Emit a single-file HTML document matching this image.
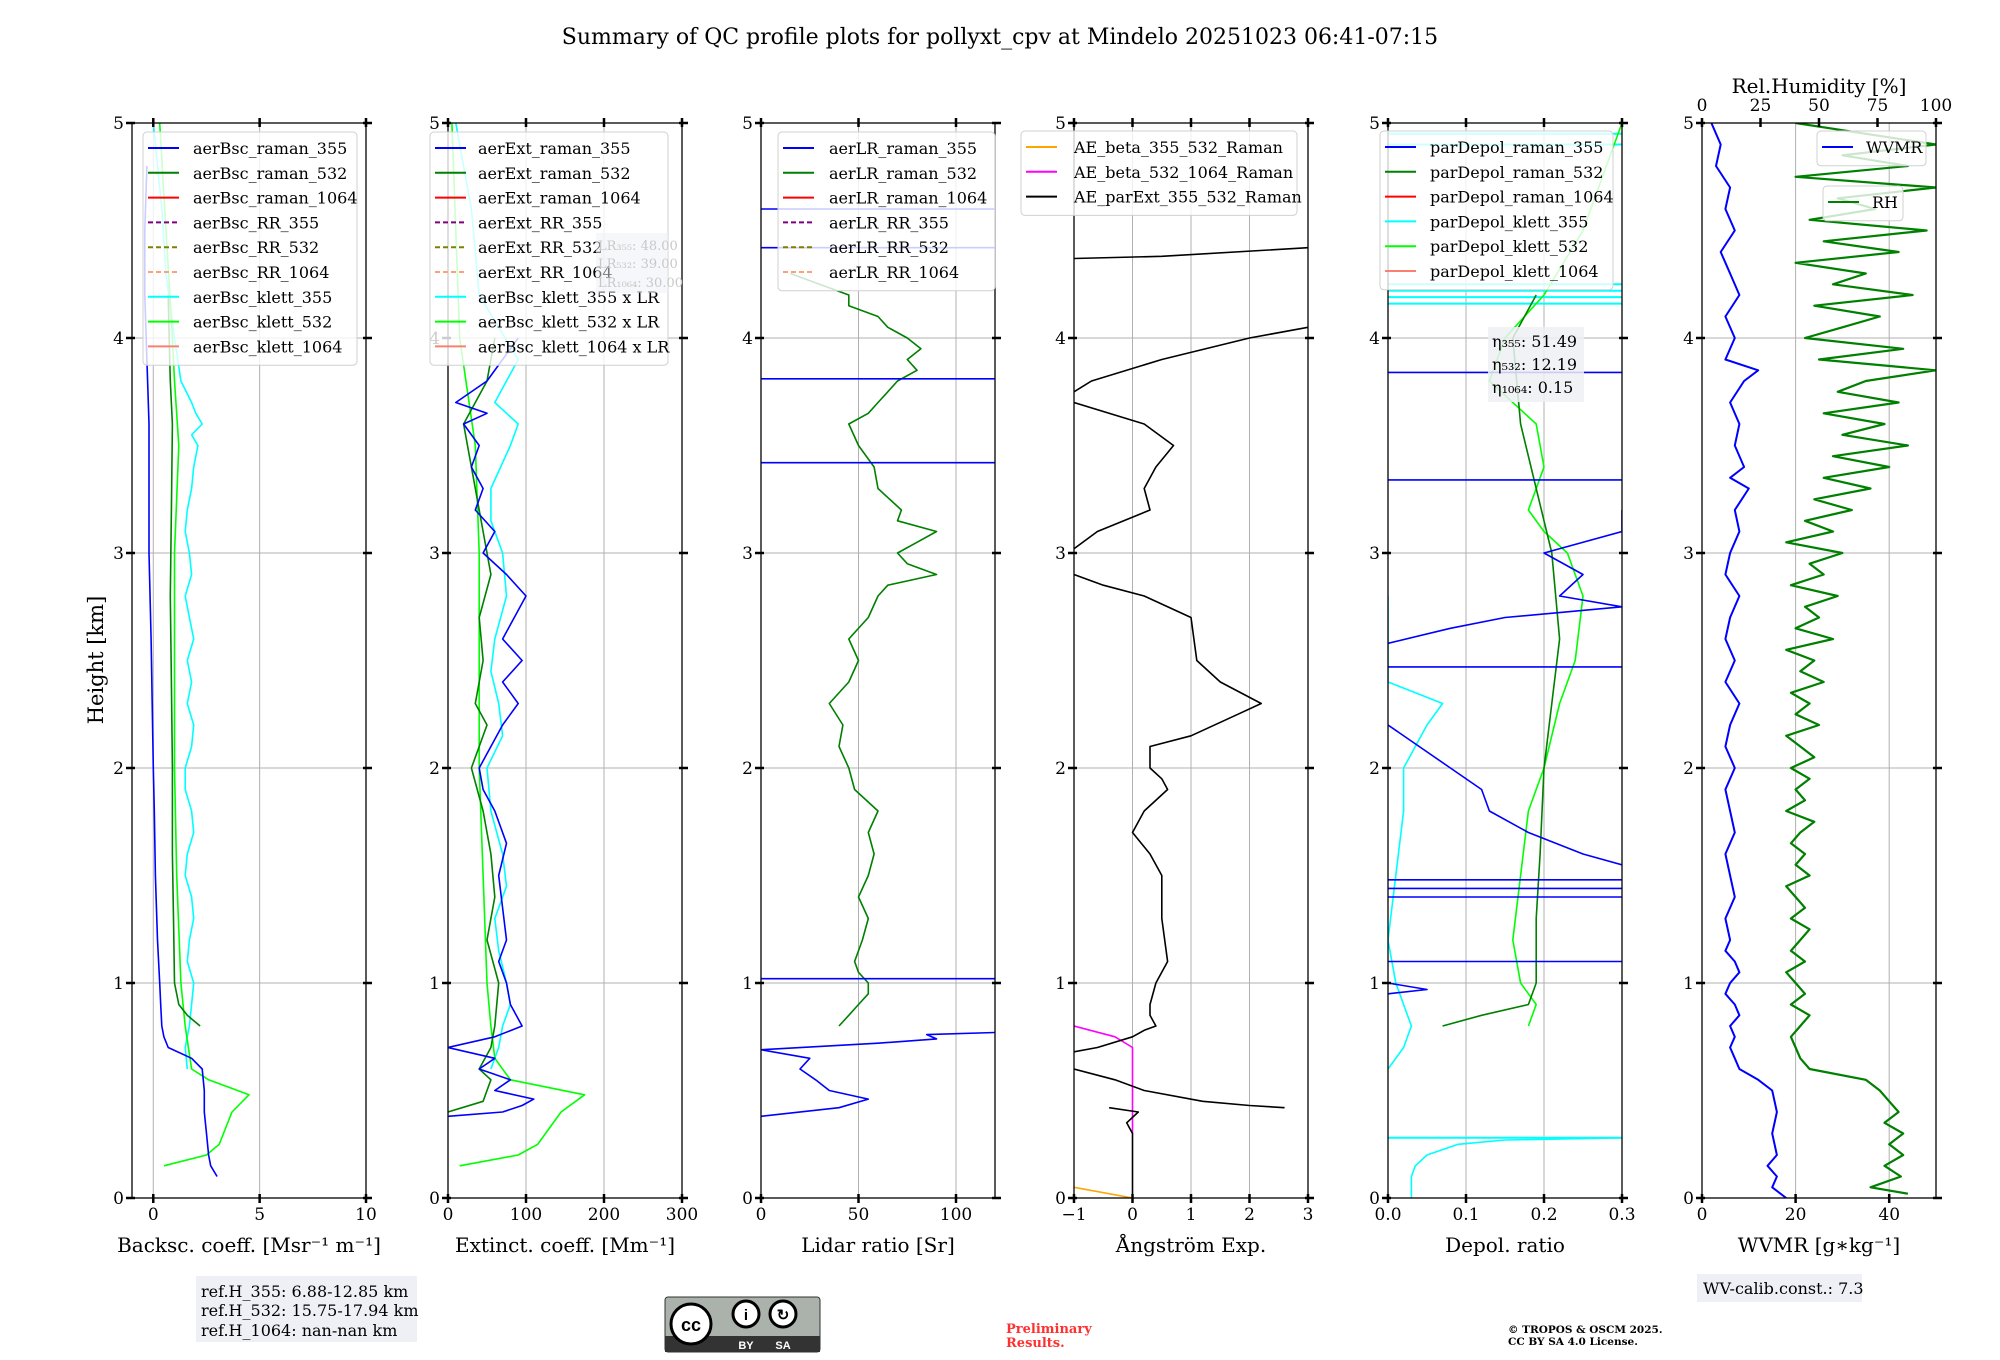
<!DOCTYPE html>
<html><head><meta charset="utf-8">
<style>
html,body{margin:0;padding:0;background:#fff;}
svg{display:block;font-family:"DejaVu Serif","Liberation Serif",serif;}
</style></head>
<body>
<svg id="fig" width="2000" height="1360" viewBox="0 0 2000 1360" xmlns="http://www.w3.org/2000/svg">
<rect width="2000" height="1360" fill="#fff"/>
<text x="1000" y="44" font-size="22" text-anchor="middle">Summary of QC profile plots for pollyxt_cpv at Mindelo 20251023 06:41-07:15</text>
<g id="plots"></g>
<text transform="translate(103,660) rotate(-90)" font-size="21" text-anchor="middle">Height [km]</text>
<g>
<rect x="196" y="1276" width="221" height="66" fill="#eef0f5"/>
<text x="201" y="1297" font-size="16">ref.H_355: 6.88-12.85 km</text>
<text x="201" y="1316" font-size="16">ref.H_532: 15.75-17.94 km</text>
<text x="201" y="1336" font-size="16">ref.H_1064: nan-nan km</text>
</g>
<g>
<rect x="665" y="1297" width="155" height="55" rx="3" fill="#aab2ab" stroke="#333" stroke-width="1"/>
<rect x="665" y="1336" width="155" height="16" fill="#333"/>
<circle cx="691" cy="1324" r="20" fill="#fff" stroke="#000" stroke-width="3"/>
<text x="691" y="1331" font-size="18" font-weight="bold" text-anchor="middle" font-family="Liberation Sans,sans-serif">cc</text>
<circle cx="746" cy="1314" r="13" fill="#fff" stroke="#000" stroke-width="3"/>
<circle cx="783" cy="1314" r="13" fill="#fff" stroke="#000" stroke-width="3"/>
<text x="746" y="1320" font-size="15" font-weight="bold" text-anchor="middle" font-family="Liberation Sans,sans-serif">i</text>
<text x="783" y="1320" font-size="15" font-weight="bold" text-anchor="middle" font-family="Liberation Sans,sans-serif">↻</text>
<text x="746" y="1349" font-size="11" fill="#fff" font-weight="bold" text-anchor="middle" font-family="Liberation Sans,sans-serif">BY</text>
<text x="783" y="1349" font-size="11" fill="#fff" font-weight="bold" text-anchor="middle" font-family="Liberation Sans,sans-serif">SA</text>
</g>
<text x="1006" y="1333" font-size="13" font-weight="bold" fill="#ff3030">Preliminary</text>
<text x="1006" y="1347" font-size="13" font-weight="bold" fill="#ff3030">Results.</text>
<text x="1508" y="1333" font-size="10.5" font-weight="bold">© TROPOS &amp; OSCM 2025.</text>
<text x="1508" y="1345" font-size="10.5" font-weight="bold">CC BY SA 4.0 License.</text>
<g>
<rect x="1697" y="1274" width="165" height="28" fill="#eef0f5"/>
<text x="1703" y="1294" font-size="16">WV-calib.const.: 7.3</text>
</g>
</svg>
<script>
// ---- data arrays (height km / value) ----
const bsc355H=[0.1,0.15,0.2,0.3,0.4,0.5,0.6,0.65,0.7,0.75,0.8,0.9,1.0,1.2,1.5,1.8,2.0,2.3,2.6,3.0,3.3,3.6,3.9,4.2,4.5,4.8];
const bsc355V=[3.0,2.7,2.6,2.5,2.4,2.4,2.3,1.8,0.7,0.5,0.4,0.35,0.3,0.2,0.1,0.05,0.0,-0.05,-0.1,-0.2,-0.2,-0.2,-0.3,-0.4,-0.4,-0.3];
const bsc532H=[0.8,0.85,0.9,1.0,1.3,1.6,2.0,2.4,2.8,3.2,3.6,3.8,4.0,4.2];
const bsc532V=[2.2,1.6,1.2,1.0,0.95,0.9,0.9,0.85,0.8,0.85,0.9,0.8,0.75,0.7];
const bscK355H=[0.6,0.7,0.8,0.9,1.0,1.1,1.2,1.3,1.4,1.5,1.6,1.7,1.8,1.9,2.0,2.1,2.2,2.3,2.4,2.5,2.6,2.7,2.8,2.9,3.0,3.1,3.2,3.3,3.4,3.5,3.55,3.6,3.65,3.7,3.8,4.0,4.3,4.6,5.0];
const bscK355V=[1.6,1.5,1.7,1.8,1.9,1.6,1.7,1.9,1.8,1.5,1.6,1.9,1.8,1.5,1.5,1.8,1.9,1.6,1.8,1.6,1.9,1.7,1.5,1.8,1.7,1.5,1.6,1.8,1.9,2.1,1.8,2.3,2.0,1.8,1.3,1.0,0.6,0.4,0.0];
const bscK532H=[0.15,0.2,0.25,0.3,0.4,0.48,0.55,0.6,0.8,1.0,1.5,2.0,2.5,3.0,3.5,3.8,4.0,4.5,5.0];
const bscK532V=[0.5,2.5,3.1,3.3,3.7,4.5,2.6,1.8,1.5,1.3,1.1,1.0,1.0,1.0,1.2,1.0,0.9,0.6,0.3];
const ext355H=[0.38,0.4,0.43,0.46,0.5,0.55,0.6,0.65,0.7,0.75,0.8,0.9,1.0,1.1,1.2,1.35,1.5,1.65,1.8,1.9,2.0,2.1,2.2,2.3,2.4,2.5,2.6,2.7,2.8,2.9,3.0,3.1,3.2,3.3,3.4,3.5,3.6,3.65,3.7,3.8,3.9,4.0];
const ext355V=[0,70,95,110,60,80,40,60,0,60,95,80,75,65,75,70,65,75,60,45,40,55,70,90,70,95,70,85,100,75,45,60,35,45,30,40,20,50,10,50,70,90];
const ext532H=[0.4,0.45,0.5,0.55,0.6,0.7,0.8,1.0,1.2,1.4,1.6,1.8,2.0,2.2,2.3,2.5,2.7,2.9,3.0,3.2,3.3,3.5,3.6,3.8,4.0];
const ext532V=[0,45,50,55,40,55,60,65,50,60,55,45,30,50,35,45,40,55,50,40,35,25,20,50,60];
const extK355H=[0.6,0.7,0.8,0.9,1.0,1.15,1.3,1.45,1.6,1.8,2.0,2.15,2.3,2.45,2.6,2.8,3.0,3.15,3.3,3.5,3.6,3.7,3.9,4.2,4.6,5.0];
const extK355V=[55,65,70,80,75,65,60,75,70,55,50,70,65,55,60,75,70,55,55,80,90,60,90,40,30,10];
const extK532H=[0.15,0.2,0.25,0.3,0.4,0.48,0.55,0.65,0.8,1.0,1.5,2.0,2.5,3.0,3.5,4.0,4.5,5.0];
const extK532V=[15,90,115,125,145,175,80,60,55,50,45,40,40,40,35,15,10,5];
const lr532H=[0.8,0.85,0.9,0.95,1.0,1.05,1.1,1.2,1.3,1.4,1.5,1.6,1.7,1.8,1.9,2.0,2.1,2.2,2.3,2.4,2.5,2.6,2.7,2.8,2.85,2.9,2.95,3.0,3.05,3.1,3.15,3.2,3.3,3.4,3.5,3.6,3.65,3.7,3.75,3.8,3.85,3.9,3.95,4.0,4.05,4.1,4.15,4.2,4.25,4.3];
const lr532V=[40,45,50,55,55,50,48,52,55,50,55,58,55,60,48,45,40,42,35,45,50,45,55,60,65,90,75,70,80,90,70,72,60,58,50,45,55,60,65,70,80,75,82,75,65,60,45,45,30,15];
const lr355H=[0.38,0.42,0.46,0.5,0.55,0.6,0.65,0.69,0.72,0.74,0.76,0.77];
const lr355V=[0,40,55,35,28,20,25,0,60,90,85,120];
const lrHLines=[1.02,3.42,3.81,4.42,4.6];
const ae355H=[2.9,2.85,2.8,2.7,2.6,2.5,2.4,2.3,2.25,2.15,2.1,2.0,1.95,1.9,1.8,1.7,1.6,1.5,1.3,1.1,1.0,0.9,0.85,0.8,0.78,0.75,0.7,0.68];
const ae355V=[-1,-0.5,0.2,1.0,1.05,1.1,1.5,2.2,1.8,1.0,0.3,0.3,0.5,0.6,0.2,0.0,0.3,0.5,0.5,0.6,0.4,0.3,0.3,0.4,0.2,0.0,-0.6,-1];
const aeLowH=[0.6,0.55,0.5,0.45,0.43,0.42];
const aeLowV=[-1,-0.3,0.2,1.2,2.0,2.6];
const aeMidH=[3.02,3.1,3.2,3.3,3.4,3.5,3.6,3.7];
const aeMidV=[-1,-0.6,0.3,0.2,0.4,0.7,0.2,-1];
const aeTopH=[3.75,3.8,3.9,4.0,4.05];
const aeTopV=[-1,-0.7,0.5,2.0,3.0];
const aeTop2H=[4.37,4.38,4.42];
const aeTop2V=[-1,0.5,3.0];
const ae1064H=[0.8,0.75,0.7,0.3];
const ae1064V=[-1,-0.3,0.0,0.0];
const aeOrgH=[0.05,0.0];
const aeOrgV=[-1,0.0];
const dp532H=[0.8,0.85,0.9,1.0,1.3,1.6,2.0,2.3,2.6,3.0,3.3,3.6,3.8,4.0,4.2];
const dp532V=[0.07,0.12,0.18,0.19,0.19,0.195,0.2,0.21,0.22,0.21,0.19,0.17,0.165,0.16,0.19];
const dpK532H=[0.8,0.9,1.0,1.2,1.5,1.8,2.0,2.3,2.5,2.8,3.0,3.1,3.2,3.4,3.6,3.8,4.0,4.2,4.5,4.8,5.0];
const dpK532V=[0.18,0.19,0.17,0.16,0.17,0.18,0.2,0.22,0.24,0.25,0.23,0.2,0.18,0.2,0.19,0.13,0.15,0.2,0.25,0.28,0.3];
const dp355H=[1.55,1.6,1.7,1.8,1.9,2.0,2.1,2.2];
const dp355V=[0.3,0.25,0.18,0.13,0.12,0.08,0.04,0.0];
const dp355bH=[2.58,2.65,2.7,2.75,2.8,2.9,3.0,3.1,3.2];
const dp355bV=[0.0,0.08,0.15,0.3,0.22,0.25,0.2,0.3,0.3];
const dpK355H=[0.6,0.7,0.8,0.9,1.0,1.2,1.5,1.8,2.0,2.2,2.3,2.4,2.6,2.8];
const dpK355V=[0.0,0.02,0.03,0.02,0.01,0.0,0.01,0.02,0.02,0.05,0.07,0.0,0.0,0.0];
const dpKcurveH=[0.0,0.1,0.15,0.2,0.25,0.27,0.28];
const dpKcurveV=[0.03,0.03,0.035,0.05,0.09,0.15,0.3];
const dpBlueLines=[1.1,1.4,1.44,1.48,2.47,3.34,3.84];
const dpCyanLines=[4.16,4.19,4.22,4.25,4.9,4.95];
const wvH=[0,0.05,0.1,0.15,0.2,0.3,0.4,0.5,0.55,0.6,0.65,0.7,0.75,0.8,0.85,0.9,0.95,1.0,1.05,1.1,1.15,1.2,1.3,1.4,1.5,1.6,1.7,1.8,1.9,2.0,2.1,2.2,2.3,2.4,2.5,2.6,2.7,2.8,2.9,3.0,3.1,3.2,3.3,3.35,3.4,3.5,3.6,3.7,3.8,3.85,3.9,4.0,4.1,4.2,4.3,4.4,4.5,4.6,4.7,4.8,4.9,5.0];
const wvV=[18,15,16,14,16,15,16,15,12,8,7,6,7,6,8,7,5,6,8,7,5,6,5,7,6,5,7,6,5,7,5,6,8,5,7,5,6,8,5,6,8,7,10,6,9,7,8,6,9,12,5,7,5,8,6,4,7,5,6,3,4,2];
const rhH=[0.02,0.05,0.1,0.15,0.2,0.25,0.3,0.35,0.4,0.45,0.5,0.55,0.6,0.65,0.7,0.75,0.8,0.85,0.9,0.95,1.0,1.05,1.1,1.15,1.2,1.25,1.3,1.35,1.4,1.45,1.5,1.55,1.6,1.65,1.7,1.75,1.8,1.85,1.9,1.95,2.0,2.05,2.1,2.15,2.2,2.25,2.3,2.35,2.4,2.45,2.5,2.55,2.6,2.65,2.7,2.75,2.8,2.85,2.9,2.95,3.0,3.05,3.1,3.15,3.2,3.25,3.3,3.35,3.4,3.45,3.5,3.55,3.6,3.65,3.7,3.75,3.8,3.85,3.9,3.95,4.0,4.05,4.1,4.15,4.2,4.25,4.3,4.35,4.4,4.45,4.5,4.55,4.6,4.65,4.7,4.75,4.8,4.85,4.9,4.95,5.0];
const rhV=[88,72,85,78,86,80,86,78,84,80,76,70,46,42,40,38,42,46,38,44,40,36,44,38,42,46,38,44,40,36,46,40,44,38,42,48,36,44,40,46,38,48,42,36,50,40,46,38,52,42,48,36,56,40,50,44,58,38,52,46,60,36,56,44,64,48,72,52,80,56,88,60,78,52,84,58,70,100,50,86,44,60,76,48,90,56,70,40,84,52,96,46,74,58,100,40,88,60,100,70,40];
// ---- layout ----
const Y0=1198,Y1=123;
const sy=h=>Y0-(h/5)*(Y0-Y1);
const W=234;
const panels=[
 {x:132,min:-1,max:10,ticks:[0,5,10],label:'Backsc. coeff. [Msr⁻¹ m⁻¹]'},
 {x:448,min:0,max:300,ticks:[0,100,200,300],label:'Extinct. coeff. [Mm⁻¹]'},
 {x:761,min:0,max:120,ticks:[0,50,100],label:'Lidar ratio [Sr]'},
 {x:1074,min:-1,max:3,ticks:[-1,0,1,2,3],tl:['−1','0','1','2','3'],label:'Ångström Exp.'},
 {x:1388,min:0,max:0.3,ticks:[0,0.1,0.2,0.3],tl:['0.0','0.1','0.2','0.3'],label:'Depol. ratio'},
 {x:1702,min:0,max:50,ticks:[0,20,40],label:'WVMR [g∗kg⁻¹]'}];
const NS='http://www.w3.org/2000/svg';
const root=document.getElementById('plots');
function mk(tag,attrs,parent){const e=document.createElementNS(NS,tag);for(const k in attrs)e.setAttribute(k,attrs[k]);(parent||root).appendChild(e);return e;}
function sx(p,v){return p.x+(v-p.min)/(p.max-p.min)*W;}
panels.forEach((p,i)=>{
 const g=mk('g',{});
 
 
 p.g=g;
 const cp=mk('clipPath',{id:'cp'+i},g);mk('rect',{x:p.x,y:Y1,width:W,height:Y0-Y1},cp);
 p.ticks.forEach(t=>{mk('line',{x1:sx(p,t),x2:sx(p,t),y1:Y1,y2:Y0,stroke:'#b0b0b0','stroke-width':1},g);});
 for(let h=1;h<5;h++)mk('line',{x1:p.x,x2:p.x+W,y1:sy(h),y2:sy(h),stroke:'#b0b0b0','stroke-width':1},g);
 p.d=mk('g',{'clip-path':'url(#cp'+i+')'},g);
});
function line(pi,H,V,color,name,w){const p=panels[pi];
 const pts=H.map((h,k)=>sx(p,V[k]).toFixed(1)+','+sy(h).toFixed(1)).join(' ');
 const e=mk('polyline',{points:pts,fill:'none',stroke:color,'stroke-width':w||1.6,'stroke-linejoin':'round'},p.d);
 
 }
function hl(pi,h,color,name,w){const p=panels[pi];
 const e=mk('line',{x1:p.x,x2:p.x+W,y1:sy(h),y2:sy(h),stroke:color,'stroke-width':w||1.6},p.d);
 
 }
line(0,bscK355H,bscK355V,'#00ffff','bsc-klett-355');
line(0,bscK532H,bscK532V,'#00ff00','bsc-klett-532');
line(0,bsc532H,bsc532V,'#008000','bsc-raman-532');
line(0,bsc355H,bsc355V,'#0000ff','bsc-raman-355');
line(1,extK355H,extK355V,'#00ffff','ext-klett-355');
line(1,extK532H,extK532V,'#00ff00','ext-klett-532');
line(1,ext532H,ext532V,'#008000','ext-raman-532');
line(1,ext355H,ext355V,'#0000ff','ext-raman-355');
line(2,lr532H,lr532V,'#008000','lr-raman-532');
line(2,lr355H,lr355V,'#0000ff','lr-raman-355');
lrHLines.forEach(h=>hl(2,h,'#0000ff','lr-355-spike'));
line(3,aeOrgH,aeOrgV,'#ffa500','ae-beta-355-532');
line(3,ae1064H,ae1064V,'#ff00ff','ae-beta-532-1064');
line(3,[0,0.3,0.35,0.4,0.42],[0,0,-0.1,0.1,-0.4],'#000','ae-parext-low');
line(3,aeLowH,aeLowV,'#000','ae-parext-segment-1');
line(3,ae355H,ae355V,'#000','ae-parext-segment-2');
line(3,aeMidH,aeMidV,'#000','ae-parext-segment-3');
line(3,aeTopH,aeTopV,'#000','ae-parext-segment-4');
line(3,aeTop2H,aeTop2V,'#000','ae-parext-segment-5');
dpCyanLines.forEach(h=>hl(4,h,'#00ffff','depol-klett-355-spike',2));
hl(4,0.28,'#00ffff','depol-klett-355-spike',2);
line(4,dpKcurveH,dpKcurveV,'#00ffff','depol-klett-355-low');
line(4,dpK355H,dpK355V,'#00ffff','depol-klett-355');
line(4,dpK532H,dpK532V,'#00ff00','depol-klett-532');
line(4,dp532H,dp532V,'#008000','depol-raman-532');
line(4,dp355H,dp355V,'#0000ff','depol-raman-355');
line(4,dp355bH,dp355bV,'#0000ff','depol-raman-355-upper');
line(4,[0.95,0.97,1.0],[0.0,0.05,0.0],'#0000ff','depol-raman-355-low');
dpBlueLines.forEach(h=>hl(4,h,'#0000ff','depol-355-spike'));
line(5,rhH,rhV.map(v=>v/2),'#008000','rh-profile',2.2);
line(5,wvH,wvV,'#0000ff','wvmr-profile',2);
panels.forEach((p,i)=>{const g=p.g;
 mk('rect',{x:p.x,y:Y1,width:W,height:Y0-Y1,fill:'none',stroke:'#000','stroke-width':1.3},g);
 p.ticks.forEach((t,k)=>{const x=sx(p,t);
  mk('line',{x1:x,x2:x,y1:Y0-4,y2:Y0+5,stroke:'#000','stroke-width':2.5},g);
  if(i<5)mk('line',{x1:x,x2:x,y1:Y1-5,y2:Y1+4,stroke:'#000','stroke-width':2.5},g);
  const tx=mk('text',{x:x,y:Y0+22,'font-size':17,'text-anchor':'middle'},g);tx.textContent=p.tl?p.tl[k]:String(t);});
 for(let h=0;h<=5;h++){mk('line',{x1:p.x-6,x2:p.x+3,y1:sy(h),y2:sy(h),stroke:'#000','stroke-width':2.5},g);
  mk('line',{x1:p.x+W-3,x2:p.x+W+6,y1:sy(h),y2:sy(h),stroke:'#000','stroke-width':2.5},g);
  const ty=mk('text',{x:p.x-8,y:sy(h)+6,'font-size':17,'text-anchor':'end'},g);ty.textContent=h;}
 const xl=mk('text',{x:p.x+W/2,y:1252,'font-size':20,'text-anchor':'middle'},g);xl.textContent=p.label;
 
 
});
const p6=panels[5];
[0,25,50,75,100].forEach(t=>{const x=p6.x+t/100*W;
 mk('line',{x1:x,x2:x,y1:Y1-5,y2:Y1+4,stroke:'#000','stroke-width':2.5},p6.g);
 const tt=mk('text',{x:x,y:111,'font-size':17,'text-anchor':'middle'},p6.g);tt.textContent=t;});
const rht=mk('text',{x:p6.x+W/2,y:93,'font-size':20,'text-anchor':'middle'},p6.g);rht.textContent='Rel.Humidity [%]';


function legend(x,y,w,entries,textX,rowH,name){
 const g=mk('g',{});
 
 
 mk('rect',{x:x,y:y,width:w,height:entries.length*rowH+10,rx:4,fill:'rgba(255,255,255,0.8)',stroke:'#d0d0d0'},g);
 entries.forEach((e,k)=>{const cy=y+16+k*rowH;
  const l=mk('line',{x1:x+5,x2:x+36,y1:cy,y2:cy,stroke:e[1],'stroke-width':2},g);
  if(e[2])l.setAttribute('stroke-dasharray','5,3');
  const t=mk('text',{x:textX,y:cy+6,'font-size':16},g);t.textContent=e[0];});
}
legend(143,132,214,[['aerBsc_raman_355','#0000ff'],['aerBsc_raman_532','#008000'],['aerBsc_raman_1064','#ff0000'],['aerBsc_RR_355','#800080',1],['aerBsc_RR_532','#808000',1],['aerBsc_RR_1064','#ffa07a',1],['aerBsc_klett_355','#00ffff'],['aerBsc_klett_532','#00ff00'],['aerBsc_klett_1064','#fa8072']],193,24.8,'legend-backscatter');
legend(430,132,238,[['aerExt_raman_355','#0000ff'],['aerExt_raman_532','#008000'],['aerExt_raman_1064','#ff0000'],['aerExt_RR_355','#800080',1],['aerExt_RR_532','#808000',1],['aerExt_RR_1064','#ffa07a',1],['aerBsc_klett_355 x LR','#00ffff'],['aerBsc_klett_532 x LR','#00ff00'],['aerBsc_klett_1064 x LR','#fa8072']],478,24.8,'legend-extinction');
legend(778,132,217,[['aerLR_raman_355','#0000ff'],['aerLR_raman_532','#008000'],['aerLR_raman_1064','#ff0000'],['aerLR_RR_355','#800080',1],['aerLR_RR_532','#808000',1],['aerLR_RR_1064','#ffa07a',1]],829,24.8,'legend-lidar-ratio');
legend(1021,131,276,[['AE_beta_355_532_Raman','#ffa500'],['AE_beta_532_1064_Raman','#ff00ff'],['AE_parExt_355_532_Raman','#000000']],1074,24.8,'legend-angstrom');
legend(1380,131,233,[['parDepol_raman_355','#0000ff'],['parDepol_raman_532','#008000'],['parDepol_raman_1064','#ff0000'],['parDepol_klett_355','#00ffff'],['parDepol_klett_532','#00ff00'],['parDepol_klett_1064','#fa8072']],1430,24.8,'legend-depol');
legend(1817,131,109,[['WVMR','#0000ff']],1866,24.8,'legend-wvmr');
legend(1823,186,80,[['RH','#008000']],1872,24.8,'legend-rh');
const lrb=mk('g',{});


mk('rect',{x:596,y:233,width:72,height:60,fill:'rgba(238,240,245,0.5)'},lrb);
[['LR₃₅₅: 48.00',250],['LR₅₃₂: 39.00',268],['LR₁₀₆₄: 30.00',287]].forEach(a=>{const t=mk('text',{x:598,y:a[1],'font-size':13,fill:'#c8c8c8'},lrb);t.textContent=a[0];});
const eb=mk('g',{});


mk('rect',{x:1488,y:327,width:96,height:75,fill:'rgba(238,240,245,0.85)'},eb);
[['η₃₅₅: 51.49',347],['η₅₃₂: 12.19',370],['η₁₀₆₄: 0.15',393]].forEach(a=>{const t=mk('text',{x:1492,y:a[1],'font-size':16},eb);t.textContent=a[0];});
</script>
</body></html>
